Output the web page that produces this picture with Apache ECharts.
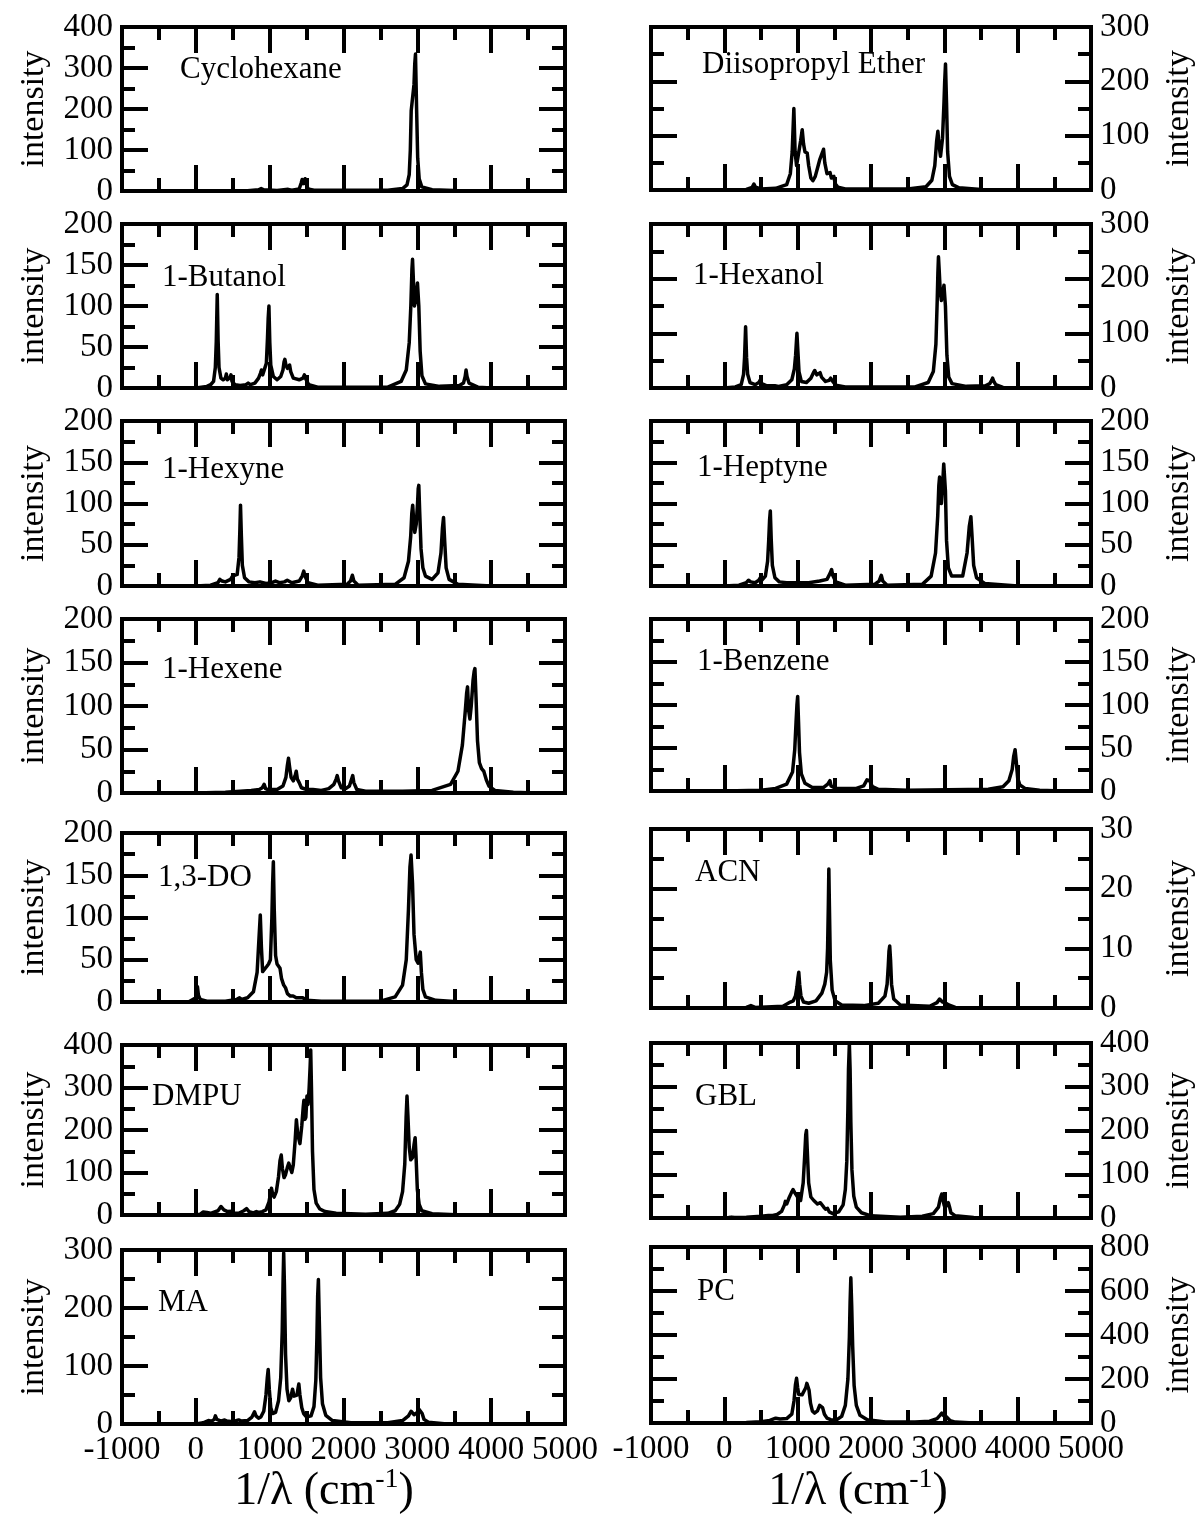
<!DOCTYPE html>
<html>
<head>
<meta charset="utf-8">
<script src="https://cdn.jsdelivr.net/npm/echarts@6/dist/echarts.min.js"></script>
<style>
html, body { margin: 0; padding: 0; background: #fff; }
#chart { width: 1196px; height: 1524px; }
</style>
</head>
<body>
<div id="chart"></div>
<script>
//spectra, [wavenumber, intensity]
var cyclohexane = [[0,0],[700,0.5],[850,3],[885,6],[920,3],[1100,1],[1250,4],[1300,2],[1400,5],[1428,20],[1440,28],[1455,18],[1468,22],[1480,30],[1492,18],[1520,5],[1600,2],[2600,2],[2800,6],[2860,15],[2890,40],[2905,100],[2917,196],[2935,200],[2955,260],[2965,310],[2975,334],[2990,200],[3005,80],[3025,30],[3060,10],[3200,3],[3500,1],[4000,0]];
var diisopropylEther = [[0,0],[300,1],[380,5],[403,11],[425,5],[500,2],[700,3],[850,10],[900,30],[925,70],[948,150],[965,70],[985,45],[1000,45],[1040,90],[1062,111],[1080,85],[1100,70],[1130,68],[1150,45],[1180,22],[1208,17],[1240,25],[1280,45],[1301,56],[1320,55],[1340,70],[1353,75],[1370,50],[1400,30],[1420,28],[1442,32],[1460,22],[1480,22],[1494,25],[1510,12],[1550,5],[1650,2],[2500,2],[2750,6],[2830,18],[2870,45],[2895,90],[2912,108],[2930,80],[2948,62],[2975,95],[2995,160],[3005,200],[3016,232],[3030,160],[3045,70],[3070,25],[3110,10],[3200,4],[3500,1],[4000,0]];
var butanol = [[0,0],[150,2],[200,4],[240,8],[264,25],[277,57],[290,114],[302,57],[314,25],[340,12],[370,10],[400,12],[413,17],[428,10],[450,9],[465,13],[476,16],[490,8],[530,4],[600,3],[680,4],[709,6],[740,4],[800,6],[850,12],[875,18],[889,22],[905,16],[930,16],[955,30],[970,60],[980,85],[990,100],[1002,55],[1015,28],[1050,14],[1100,10],[1150,14],[1180,22],[1195,32],[1206,35],[1220,28],[1240,24],[1255,26],[1270,28],[1285,20],[1320,12],[1400,10],[1450,12],[1470,16],[1481,18],[1495,10],[1530,4],[1650,1],[2600,1],[2780,8],[2850,22],[2890,55],[2912,100],[2927,145],[2935,157],[2945,135],[2960,100],[2975,105],[2990,118],[3002,128],[3010,130],[3020,100],[3038,45],[3062,15],[3110,5],[3300,2],[3570,3],[3625,6],[3648,14],[3660,22],[3673,14],[3700,6],[3820,1],[4000,0]];
var hexanol = [[0,0],[150,2],[230,6],[262,25],[276,56],[290,112],[303,56],[318,25],[350,10],[420,6],[470,10],[491,15],[510,8],[580,4],[690,4],[710,6],[740,3],[850,6],[920,15],[955,35],[972,60],[983,85],[990,100],[1002,70],[1018,30],[1050,12],[1120,10],[1180,18],[1215,28],[1233,32],[1260,24],[1285,25],[1306,28],[1325,20],[1380,12],[1430,14],[1450,18],[1463,20],[1478,12],[1520,5],[1650,2],[2600,2],[2780,10],[2850,30],[2885,80],[2903,160],[2912,210],[2920,240],[2930,215],[2945,175],[2960,160],[2980,175],[2995,188],[3003,190],[3015,150],[3035,60],[3060,20],[3105,8],[3300,3],[3560,4],[3620,8],[3645,14],[3658,18],[3671,13],[3700,6],[3800,1],[4000,0]];
var hexyne = [[0,0],[200,1],[300,4],[325,8],[339,9],[355,6],[400,5],[470,8],[497,12],[520,10],[560,14],[585,35],[597,70],[605,98],[617,60],[630,25],[660,10],[720,5],[800,4],[868,5],[950,3],[1030,4],[1079,6],[1130,4],[1200,5],[1238,7],[1300,4],[1400,6],[1440,12],[1462,18],[1478,12],[1520,4],[1650,1],[2050,2],[2095,6],[2120,13],[2140,6],[2200,1],[2700,2],[2820,10],[2880,30],[2910,60],[2925,88],[2937,98],[2950,80],[2965,65],[2985,75],[3003,100],[3012,118],[3020,122],[3032,90],[3050,45],[3075,22],[3110,12],[3200,8],[3280,16],[3320,40],[3340,70],[3355,83],[3370,55],[3390,22],[3430,8],[3550,2],[4000,0]];
var heptyne = [[0,0],[200,1],[300,4],[330,7],[345,8],[360,5],[420,4],[470,7],[491,10],[510,7],[560,12],[590,30],[605,55],[617,80],[627,91],[640,55],[655,25],[690,10],[750,5],[850,4],[1000,4],[1150,4],[1300,6],[1400,8],[1440,15],[1463,20],[1478,13],[1520,5],[1650,1],[2050,2],[2110,6],[2140,13],[2160,6],[2220,1],[2700,2],[2820,12],[2880,40],[2910,85],[2925,122],[2935,132],[2948,110],[2960,100],[2978,125],[2992,148],[3002,150],[3015,115],[3030,55],[3055,22],[3100,12],[3250,12],[3310,40],[3340,72],[3362,84],[3378,60],[3400,25],[3440,10],[3550,3],[4000,0]];
var hexene = [[0,0],[400,1],[600,2],[750,3],[860,4],[900,6],[925,10],[945,5],[1000,3],[1040,4],[1100,4],[1180,8],[1220,18],[1240,32],[1255,40],[1270,30],[1290,18],[1320,14],[1345,20],[1360,25],[1375,16],[1400,12],[1430,6],[1500,4],[1586,4],[1700,3],[1800,5],[1870,10],[1900,16],[1915,20],[1932,14],[1970,6],[2030,5],[2080,8],[2110,16],[2125,20],[2140,12],[2180,4],[2300,2],[2800,2],[3200,3],[3450,10],[3550,25],[3610,55],[3650,95],[3668,115],[3680,122],[3695,95],[3712,85],[3730,100],[3755,130],[3770,140],[3780,143],[3795,110],[3815,60],[3840,35],[3870,28],[3900,25],[3918,25],[3935,15],[3970,8],[4050,3],[4300,1],[4600,0]];
var benzene = [[0,0],[500,1],[700,3],[850,8],[930,22],[960,48],[978,80],[990,100],[1000,110],[1012,80],[1025,45],[1050,20],[1100,9],[1200,4],[1350,4],[1410,8],[1440,12],[1455,6],[1520,3],[1800,3],[1900,6],[1945,13],[1965,15],[1980,12],[2000,10],[2020,5],[2100,2],[2500,1],[3600,2],[3800,5],[3880,12],[3895,10],[3925,25],[3945,40],[3965,48],[3980,35],[4000,15],[4030,7],[4100,3],[4300,1],[4600,0]];
var dioxolane = [[-100,0],[0,5],[12,14],[22,18],[35,8],[60,3],[150,1],[400,1],[550,3],[592,5],[620,3],[700,5],[780,12],[830,35],[855,75],[873,103],[888,65],[905,36],[930,38],[960,42],[985,45],[1010,50],[1030,100],[1040,140],[1050,166],[1062,110],[1080,55],[1100,45],[1125,44],[1140,40],[1160,28],[1190,20],[1214,17],[1240,10],[1280,7],[1318,7],[1360,5],[1448,5],[1500,2],[1700,1],[2500,1],[2700,6],[2800,20],[2850,50],[2880,110],[2900,160],[2915,174],[2935,140],[2955,80],[2985,50],[3010,46],[3030,55],[3040,59],[3055,35],[3075,15],[3110,6],[3250,2],[3600,0]];
var acn = [[0,0],[300,0.1],[362,0.4],[420,0.1],[800,0.3],[900,1],[940,1.2],[970,2],[990,3.5],[1003,5],[1015,6],[1027,4],[1045,2],[1080,1],[1150,0.8],[1250,1.2],[1330,2.5],[1370,4],[1395,6],[1408,10],[1418,17],[1425,23.3],[1433,17],[1445,8],[1470,3],[1510,1.2],[1600,0.5],[1900,0.4],[2100,0.8],[2190,2],[2220,4],[2235,7],[2245,9.5],[2255,10.4],[2267,8],[2280,4],[2310,1.5],[2400,0.5],[2800,0.3],[2900,0.9],[2935,1.5],[2955,1.8],[2975,1],[3010,0.9],[3035,1.2],[3060,0.5],[3150,0.1],[3500,0]];
var dmpu = [[0,0],[60,2],[100,7],[124,9],[150,6],[200,4],[300,10],[340,20],[359,22],[380,12],[430,8],[482,9],[520,5],[580,4],[650,10],[687,15],[720,8],[780,5],[820,8],[850,6],[900,8],[922,10],[950,12],[990,30],[1010,50],[1024,63],[1040,50],[1060,42],[1090,55],[1120,90],[1140,128],[1157,141],[1172,110],[1195,88],[1215,95],[1240,112],[1259,122],[1280,110],[1300,100],[1320,118],[1345,175],[1362,224],[1380,190],[1410,168],[1435,210],[1455,255],[1464,270],[1478,225],[1490,230],[1505,280],[1520,260],[1535,300],[1548,350],[1556,388],[1566,300],[1580,150],[1600,60],[1630,28],[1680,14],[1750,8],[1900,4],[2300,2],[2600,4],[2700,10],[2760,25],[2800,55],[2830,120],[2848,230],[2860,280],[2872,235],[2890,160],[2910,130],[2935,135],[2955,165],[2970,182],[2982,140],[3000,60],[3025,25],[3060,10],[3200,3],[3600,0]];
var gbl = [[0,0],[60,1],[99,2],[140,1],[300,2],[500,4],[600,6],[623,9],[660,6],[720,8],[780,15],[820,30],[832,38],[850,32],[880,45],[915,58],[937,65],[960,58],[985,55],[1010,45],[1040,40],[1075,80],[1095,140],[1110,190],[1120,200],[1132,150],[1150,80],[1180,48],[1220,40],[1270,32],[1310,35],[1335,38],[1355,25],[1380,20],[1408,22],[1430,14],[1480,10],[1560,14],[1620,30],[1650,65],[1670,130],[1685,250],[1693,340],[1705,398],[1715,340],[1725,220],[1740,110],[1765,50],[1800,25],[1870,12],[2000,5],[2400,2],[2700,4],[2850,10],[2920,25],[2945,45],[2965,55],[2980,42],[3000,28],[3030,28],[3055,35],[3070,26],[3090,12],[3150,5],[3400,1],[3600,0]];
var ma = [[0,0],[100,2],[170,6],[190,8],[215,5],[250,8],[265,14],[285,8],[340,5],[390,7],[420,5],[500,4],[580,7],[620,5],[700,6],[760,12],[795,21],[815,14],[850,10],[880,12],[920,22],[950,50],[968,80],[980,94],[995,60],[1015,28],[1040,18],[1080,20],[1120,40],[1150,80],[1170,160],[1182,250],[1190,295],[1200,240],[1215,120],[1235,60],[1260,40],[1285,45],[1310,60],[1330,48],[1350,45],[1370,50],[1385,62],[1395,69],[1410,50],[1435,28],[1460,18],[1500,12],[1560,14],[1600,30],[1625,75],[1640,150],[1650,220],[1660,249],[1672,180],[1690,80],[1715,35],[1760,15],[1850,6],[2100,2],[2600,2],[2800,6],[2880,14],[2915,22],[2935,24],[2955,16],[2975,15],[3000,20],[3025,25],[3045,26],[3065,18],[3090,8],[3150,3],[3400,0]];
var pc = [[0,0],[300,2],[500,6],[620,12],[700,22],[725,24],[760,18],[850,20],[920,40],[950,100],[970,175],[985,203],[1000,160],[1015,130],[1035,138],[1060,128],[1085,135],[1110,160],[1125,180],[1140,188],[1155,150],[1175,90],[1200,55],[1230,45],[1270,55],[1300,80],[1320,89],[1340,70],[1365,40],[1400,22],[1450,15],[1530,14],[1600,30],[1650,80],[1685,200],[1705,390],[1715,550],[1725,660],[1737,530],[1750,350],[1770,170],[1800,80],[1850,35],[1950,15],[2200,5],[2600,4],[2800,8],[2900,20],[2940,35],[2965,45],[2985,35],[3010,30],[3030,28],[3050,22],[3080,10],[3150,4],[3400,0]];

var spectra = [cyclohexane, diisopropylEther, butanol, hexanol, hexyne, heptyne, hexene, benzene, dioxolane, acn, dmpu, gbl, ma, pc];
var names = ['Cyclohexane', 'Diisopropyl Ether', '1-Butanol', '1-Hexanol', '1-Hexyne', '1-Heptyne', '1-Hexene', '1-Benzene', '1,3-DO', 'ACN', 'DMPU', 'GBL', 'MA', 'PC'];
var yMax = [400, 300, 200, 300, 200, 200, 200, 200, 200, 30, 400, 400, 300, 800];
var yStep = [100, 100, 50, 100, 50, 50, 50, 50, 50, 10, 100, 100, 100, 200];
var xMin = -1000, xMax = 5000, xStep = 1000;

//layout: [left, top, width, height] of every frame
var boxes = [
    [122, 27, 443, 164], [651, 27, 440, 163],
    [122, 224, 443, 164], [651, 224, 440, 164],
    [122, 421, 443, 165], [651, 421, 440, 165],
    [122, 619, 443, 174], [651, 619, 440, 172],
    [122, 833, 443, 169], [651, 829, 440, 179],
    [122, 1045, 443, 170], [651, 1043, 440, 175],
    [122, 1250, 443, 174], [651, 1247, 440, 176]
];
var namePos = [[180,70],[702,65],[162,278],[693,276],[162,470],[697,468],[162,670],[697,662],[158,878],[695,873],[152,1097],[695,1097],[158,1303],[697,1292]];

var FONT = '"Liberation Serif", "Times New Roman", serif';
var tickStyle = {color: '#000', width: 4};

//x轴
function xAxisSet(i, pos, showLabel){
    return {
        type: 'value',
        gridIndex: i,
        position: pos,
        min: xMin,
        max: xMax,
        interval: xStep,
        axisLine: {show: false, onZero: false},
        axisTick: {show: true, inside: true, length: 26, lineStyle: tickStyle},
        minorTick: {show: true, splitNumber: 2, length: 13, lineStyle: tickStyle},
        splitLine: {show: false},
        axisLabel: {
            show: showLabel, margin: 10, color: '#000', fontFamily: FONT, fontSize: 33,
            formatter: function(v){ return String(v); }
        },
        silent: true
    };
}

//y轴
function yAxisSet(i, pos, main){
    return {
        type: 'value',
        gridIndex: i,
        position: pos,
        min: 0,
        max: yMax[i],
        interval: yStep[i],
        name: main ? 'intensity' : '',
        nameLocation: 'middle',
        nameRotate: 90,
        nameGap: 71,
        nameTextStyle: {color: '#000', fontFamily: FONT, fontSize: 34},
        axisLine: {show: false, onZero: false},
        axisTick: {show: true, inside: true, length: 26, lineStyle: tickStyle},
        minorTick: {show: true, splitNumber: 2, length: 13, lineStyle: tickStyle},
        splitLine: {show: false},
        axisLabel: {
            show: main, margin: 9, color: '#000', fontFamily: FONT, fontSize: 33,
            formatter: function(v){ return String(v); }
        },
        silent: true
    };
}

var option = {
    animation: false,
    backgroundColor: '#fff',
    grid: [], xAxis: [], yAxis: [], series: [], graphic: []
};

for(var i=0, len=spectra.length; i<len; i++){
    var b = boxes[i], onRight = (i % 2 == 1), lastRow = (i >= len - 2);
    option.grid.push({
        left: b[0], top: b[1], width: b[2], height: b[3],
        show: true, borderColor: '#000', borderWidth: 4,
        containLabel: false, outerBoundsMode: 'none'
    });
    option.xAxis.push(xAxisSet(i, 'bottom', lastRow));
    option.xAxis.push(xAxisSet(i, 'top', false));
    option.yAxis.push(yAxisSet(i, onRight ? 'right' : 'left', true));
    option.yAxis.push(yAxisSet(i, onRight ? 'left' : 'right', false));
    option.series.push({
        type: 'line',
        xAxisIndex: 2 * i,
        yAxisIndex: 2 * i,
        data: spectra[i],
        showSymbol: false,
        symbol: 'none',
        silent: true,
        lineStyle: {color: '#000', width: 3.5, join: 'round'}
    });
    option.graphic.push({
        type: 'text', x: namePos[i][0], y: namePos[i][1], silent: true,
        style: {text: names[i], fill: '#000', font: '31px ' + FONT, align: 'left', verticalAlign: 'middle'}
    });
}

//横轴标题
[324, 858].forEach(function(cx){
    option.graphic.push({
        type: 'text', x: cx, y: 1492, silent: true,
        style: {
            text: '{a|1/λ (cm}{b|-1}{a|)}',
            align: 'center', verticalAlign: 'middle',
            rich: {
                a: {fontFamily: FONT, fontSize: 46, fill: '#000', lineHeight: 52},
                b: {fontFamily: FONT, fontSize: 28, fill: '#000', lineHeight: 52, verticalAlign: 'top'}
            }
        }
    });
});

var chart = echarts.init(document.getElementById('chart'));
chart.setOption(option);
</script>
</body>
</html>
